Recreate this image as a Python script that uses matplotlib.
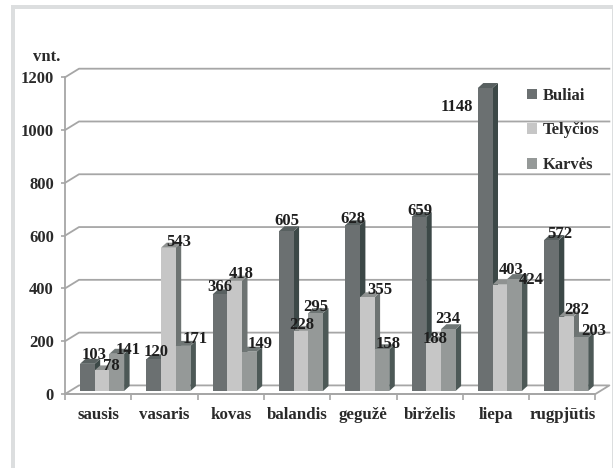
import matplotlib
matplotlib.use("Agg")
import matplotlib.pyplot as plt
from matplotlib.patches import Rectangle, Patch

plt.rcParams["font.family"] = ["Liberation Serif", "DejaVu Serif"]
plt.rcParams["font.weight"] = "bold"

menesiai = ["sausis", "vasaris", "kovas", "balandis", "gegužė", "birželis", "liepa", "rugpjūtis"]
buliai = [103, 120, 366, 605, 628, 659, 1148, 572]
telycios = [78, 543, 418, 228, 355, 188, 403, 282]
karves = [141, 171, 149, 295, 158, 234, 424, 203]
y_ticks = [0, 200, 400, 600, 800, 1000, 1200]

serijos = [("Buliai", buliai), ("Telyčios", telycios), ("Karvės", karves)]
spalvos = ["#6b7071", "#c6c6c6", "#959998"]
sonai = ["#3c4847", "#6d7372", "#4d5957"]
virsus = ["#586060", "#8f9291", "#6f7675"]

# kur deti skaicius nuo stulpelio virsaus (pikseliais), kitaip jie vienas ant kito
poslinkiai = [
    [(7, 9), (9, 4), (11, 4)],
    [(2, 7), (10, 6), (12, 7)],
    [(0, 7), (7, 7), (11, 8)],
    [(1, 10), (1, 6), (0, 6)],
    [(0, 6), (13, 7), (6, 5)],
    [(1, 6), (2, 2), (0, 10)],
    [(-28, -19), (11, 15), (17, -1)],
    [(8, 6), (11, 7), (13, 6)],
]

fig = plt.figure(figsize=(6.13, 4.68), dpi=100)
W, H = 613, 468

# remelis aplink
for x, y, w, h in [(11, 5, 602, 4), (11, 5, 4, 463), (612, 9, 1, 459)]:
    fig.patches.append(Rectangle((x / W, 1 - (y + h) / H), w / W, h / H, transform=fig.transFigure,
                                 color="#dcdedf", lw=0))

ax = fig.add_axes([65 / W, 1 - 394 / H, 530.4 / W, 316.7 / H])
ax.set_xlim(0, 8)
ax.set_ylim(0, 1200)
px_x = 8 / 530.4
px_y = 1200 / 316.7

# galine siena ir grindys
gr = "#a6a6a6"
gx = 14 * px_x
gy = 8.6 * px_y
for v in y_ticks:
    if v == 0:
        ax.plot([0, gx, 8 + gx, 8, 0], [0, gy, gy, 0, 0], color=gr, lw=1.3, clip_on=False, zorder=1)
    else:
        ax.plot([0, gx, 8 + gx], [v, v + gy, v + gy], color=gr, lw=1.3, clip_on=False, zorder=1)

# stulpeliai, kiekvienas is trijų dalių
plotis = 14.7 * px_x
pradzia = 15 * px_x
pagrindas = 3 * px_y
gylis_x = 5.5 * px_x
gylis_y = 5 * px_y
zo = 2
for i in range(len(menesiai)):
    for s, (pav, reiksmes) in enumerate(serijos):
        v = reiksmes[i]
        x0 = i + pradzia + s * plotis
        x1 = x0 + plotis
        t = v + pagrindas
        ax.fill([x1, x1 + gylis_x, x1 + gylis_x, x1],
                [pagrindas, pagrindas + gylis_y, t + gylis_y, t], color=sonai[s], lw=0, zorder=zo, clip_on=False)
        ax.fill([x0, x0 + gylis_x, x1 + gylis_x, x1],
                [t, t + gylis_y, t + gylis_y, t], color=virsus[s], lw=0, zorder=zo, clip_on=False)
        ax.bar(x0, v, width=plotis, bottom=pagrindas, align="edge", color=spalvos[s], lw=0, zorder=zo + 0.5)
        zo += 1

for i in range(len(menesiai)):
    for s, (pav, reiksmes) in enumerate(serijos):
        v = reiksmes[i]
        ax.annotate(str(v), (i + pradzia + (s + 0.5) * plotis, v + pagrindas),
                    xytext=poslinkiai[i][s], textcoords="offset pixels",
                    ha="center", va="center", fontsize=12, color="#1e1e1e", zorder=100,
                    annotation_clip=False)

for k in ["top", "right"]:
    ax.spines[k].set_visible(False)
for k in ["left", "bottom"]:
    ax.spines[k].set_color(gr)
    ax.spines[k].set_linewidth(1.3)
ax.patch.set_alpha(0)

ax.set_yticks(y_ticks)
ax.set_xticks(range(9))
ax.set_xticklabels([])
ax.set_xticks([i + 0.5 for i in range(8)], minor=True)
ax.set_xticklabels(menesiai, minor=True)
ax.tick_params(axis="x", which="major", length=4, width=1.2, color=gr)
ax.tick_params(axis="x", which="minor", length=0, pad=9.5, labelsize=12.2, labelcolor="#2a2a2a")
ax.tick_params(axis="y", length=3, width=1.2, color=gr, labelsize=12, labelcolor="#2a2a2a", pad=5)

ax.text(-5 / 530.4, 1.04, "vnt.", transform=ax.transAxes, ha="right", va="bottom",
        fontsize=12, color="#2a2a2a")

rankenos = [Patch(color=spalvos[s], lw=0) for s in range(3)]
ax.legend(rankenos, [x[0] for x in serijos], loc="upper left", bbox_to_anchor=(462 / 530.4, 0.967),
          frameon=False, fontsize=12, labelspacing=1.12, handlelength=0.6, handleheight=0.6,
          handletextpad=0.35, borderpad=0, borderaxespad=0, labelcolor="#2a2a2a")

fig.savefig("out.png", dpi=100)
